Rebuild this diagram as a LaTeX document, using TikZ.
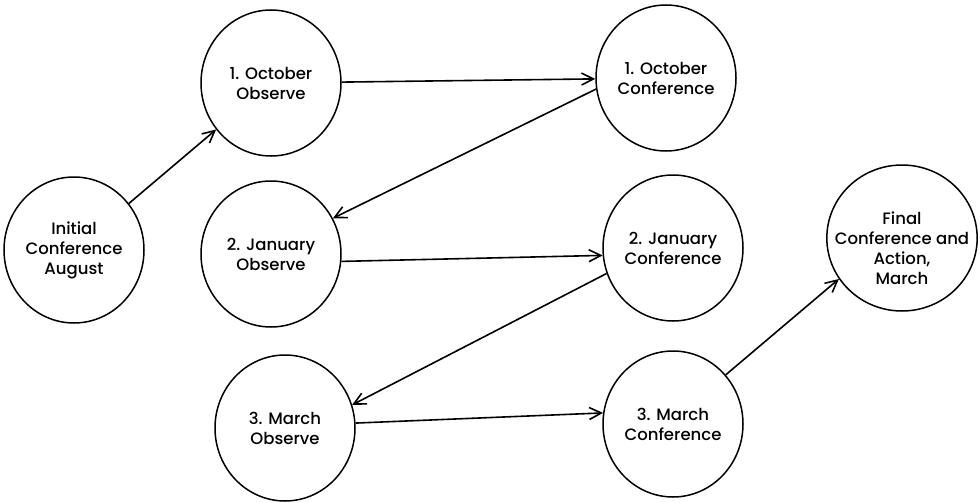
\documentclass[tikz,border=0pt]{standalone}
\usepackage{fontspec}
\setmainfont{Poppins}[UprightFont={* Medium}]
\usetikzlibrary{arrows.meta, shapes.geometric}

\begin{document}
\begin{tikzpicture}[x=1pt, y=-1pt,
        stage/.style={draw, ellipse, line width=1.5pt, minimum width=140pt, minimum height=146pt,
                      inner sep=0pt, align=center, font=\fontsize{16.5}{20}\selectfont},
        flow/.style={-{Straight Barb[length=12pt,width=12pt]}, line width=1.6pt}]
                    \useasboundingbox (0,0) rectangle (980,503);

                    % the stages
                    \node[stage] (init) at (74,250) {Initial\\Conference\\August};
                    \node[stage] (obs1) at (271,83) {1. October\\Observe};
                    \node[stage] (conf1) at (666,78) {1. October\\Conference};
                    \node[stage] (obs2) at (271,254) {2. January\\Observe};
                    \node[stage] (conf2) at (673,248) {2. January\\Conference};
                    \node[stage] (obs3) at (285,428) {3. March\\Observe};
                    \node[stage] (conf3) at (673,424) {3. March\\Conference};
                    \node[stage, inner sep=-14pt] (final) at (902,238) {\rule{0pt}{34pt}Final\\Conference and\\Action,\\March};

                    % the arrows between them
                    \draw[flow] (init) -- (obs1);
                    \draw[flow] (obs1) -- (conf1);
                    \draw[flow] (conf1.189) -- (obs2.30);
                    \draw[flow] (obs2.-6) -- (conf2.186);
                    \draw[flow] (conf2.201) -- (obs3.19);
                    \draw[flow] (obs3.4) -- (conf3.171);
                    \draw[flow] (conf3.43) -- (final.213);
                \end{tikzpicture}
\end{document}
